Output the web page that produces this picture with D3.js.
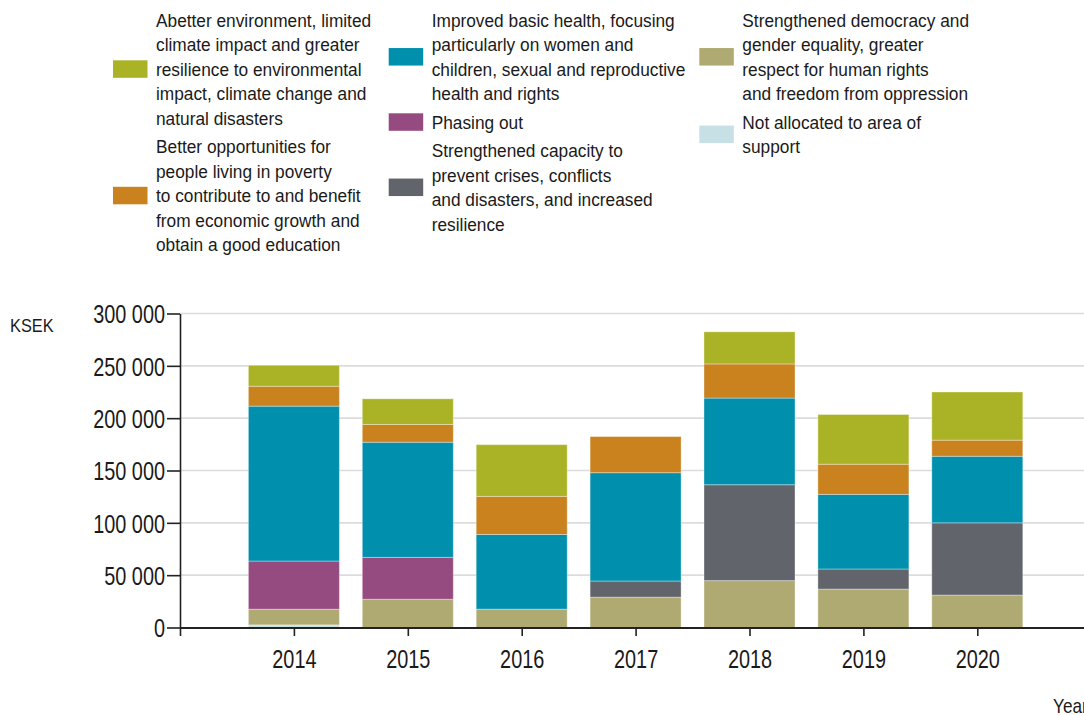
<!DOCTYPE html>
<html>
<head>
<meta charset="utf-8">
<script src="https://cdn.jsdelivr.net/npm/d3@7"></script>
<style>
  body { margin: 0; background: #fff; }
  text { font-family: "Liberation Sans", Arial, sans-serif; fill: #1a1a1a; }
</style>
</head>
<body>
<svg id="chart" width="1084" height="715"></svg>
<script>
// years on the x axis
const years = [2014, 2015, 2016, 2017, 2018, 2019, 2020];

// series values, KSEK
const notAllocated = [2500, 0, 0, 0, 0, 0, 0];
const democracy    = [15000, 27000, 17500, 29000, 44800, 36700, 31000];
const phasingOut   = [46000, 40000, 0, 0, 0, 0, 0];
const crises       = [0, 0, 0, 15400, 91600, 19200, 69000];
const health       = [148000, 110000, 71400, 103500, 82800, 71300, 63600];
const poverty      = [19000, 17000, 36400, 34500, 32600, 28800, 15400];
const environment  = [20000, 24500, 49400, 0, 30700, 47500, 46000];

// stack order, bottom to top
const seriesKeys = ["notAllocated", "democracy", "phasingOut", "crises", "health", "poverty", "environment"];
const seriesValues = [notAllocated, democracy, phasingOut, crises, health, poverty, environment];
const seriesColors = ["#c6e0e6", "#afaa72", "#954b80", "#62646b", "#0090ad", "#c9821d", "#aab325"];
const seriesLabels = [
  ["Not allocated to area of", "support"],
  ["Strengthened democracy and", "gender equality, greater", "respect for human rights", "and freedom from oppression"],
  ["Phasing out"],
  ["Strengthened capacity to", "prevent crises, conflicts", "and disasters, and increased", "resilience"],
  ["Improved basic health, focusing", "particularly on women and", "children, sexual and reproductive", "health and rights"],
  ["Better opportunities for", "people living in poverty", "to contribute to and benefit", "from economic growth and", "obtain a good education"],
  ["Abetter environment, limited", "climate impact and greater", "resilience to environmental", "impact, climate change and", "natural disasters"]
];

// legend columns (keys in reading order)
const legendColumns = [
  ["environment", "poverty"],
  ["health", "phasingOut", "crises"],
  ["democracy", "notAllocated"]
];

const yTicks = [0, 50000, 100000, 150000, 200000, 250000, 300000];

// ---------------------------------------------------------------
const svg = d3.select("#chart");

const table = years.map((y, i) => {
  let row = {year: y};
  seriesKeys.forEach((k, j) => row[k] = seriesValues[j][i]);
  return row;
});

const stack = d3.stack().keys(seriesKeys);
const layers = stack(table);

const color = d3.scaleOrdinal().domain(seriesKeys).range(seriesColors);

const y = d3.scaleLinear().domain([0, 300000]).range([627.5, 313.5]);
// one empty slot at the left edge, the plot runs off the right edge
const x = d3.scaleLinear().domain([2013, 2021]).range([180, 180 + 8 * 113.9]);
const barWidth = 91;

const locale = d3.formatLocale({decimal: ".", thousands: " ", grouping: [3], currency: ["", ""]});
const fmt = locale.format(",");

// horizontal grid lines
svg.append("g")
  .selectAll("line")
  .data(yTicks.slice(1))
  .join("line")
    .attr("x1", 180)
    .attr("x2", 1084)
    .attr("y1", d => y(d))
    .attr("y2", d => y(d))
    .attr("stroke", "#dcdcdc")
    .attr("stroke-width", 1.6);

// bars
svg.append("g")
  .selectAll("g")
  .data(layers)
  .join("g")
    .attr("fill", d => color(d.key))
  .selectAll("rect")
  .data(d => d.filter(p => p[1] - p[0] > 0))
  .join("rect")
    .attr("x", d => x(d.data.year) - barWidth / 2)
    .attr("width", barWidth)
    .attr("y", d => y(d[1]))
    .attr("height", d => y(d[0]) - y(d[1]))
    .attr("stroke", "rgba(255,255,255,0.35)")
    .attr("stroke-width", 1);

// y axis
const axisSquash = 0.75;
const yAxis = svg.append("g")
  .attr("transform", "translate(180,0)")
  .call(d3.axisLeft(y).tickValues(yTicks).tickFormat(fmt).tickSize(13).tickSizeOuter(0));
yAxis.select(".domain").attr("stroke", "#222").attr("stroke-width", 1.6);
yAxis.selectAll(".tick line").attr("stroke", "#222").attr("stroke-width", 1.6);
yAxis.selectAll("text")
  .attr("font-size", 26.5)
  .attr("fill", "#1a1a1a")
  .attr("x", -15 / axisSquash)
  .attr("dy", "0.35em")
  .attr("transform", `scale(${axisSquash},1)`);

// x axis
const xAxis = svg.append("g")
  .attr("transform", "translate(0,627.5)")
  .call(d3.axisBottom(x)
    .tickValues(d3.range(2013, 2021))
    .tickFormat(d => d === 2013 ? "" : d)
    .tickSize(8.5)
    .tickSizeOuter(0));
xAxis.select(".domain").attr("stroke", "#222").attr("stroke-width", 2);
xAxis.selectAll(".tick line").attr("stroke", "#222").attr("stroke-width", 1.6);
xAxis.selectAll("text")
  .attr("font-size", 26.5)
  .attr("fill", "#1a1a1a")
  .attr("y", 21.5)
  .attr("transform", `scale(${axisSquash},1)`);

// axis titles
svg.append("text")
  .attr("transform", "translate(10,331.5) scale(0.86,1)")
  .attr("font-size", 19)
  .text("KSEK");

svg.append("text")
  .attr("transform", "translate(1053,713) scale(0.86,1)")
  .attr("font-size", 20)
  .text("Year");

// legend
const legendSquash = 0.935;
const lineH = 24.5, itemGap = 4, firstBase = 26.7, capH = 13.3;
const colText = [156, 431.7, 742.3];

legendColumns.forEach((col, ci) => {
  let base = firstBase;
  col.forEach(key => {
    const idx = seriesKeys.indexOf(key);
    const lines = seriesLabels[idx];
    const g = svg.append("g").attr("class", "legend-item");
    const mid = base + (lines.length - 1) * lineH / 2 - capH / 2;

    g.append("rect")
      .attr("x", colText[ci] - 43)
      .attr("y", mid - 8.75)
      .attr("width", 34.5)
      .attr("height", 17.5)
      .attr("fill", color(key));

    lines.forEach((ln, li) => {
      g.append("text")
        .attr("transform", `translate(${colText[ci]},${base + li * lineH}) scale(${legendSquash},1)`)
        .attr("font-size", 18.5)
        .text(ln);
    });
    base += lines.length * lineH + itemGap;
  });
});
</script>
</body>
</html>
